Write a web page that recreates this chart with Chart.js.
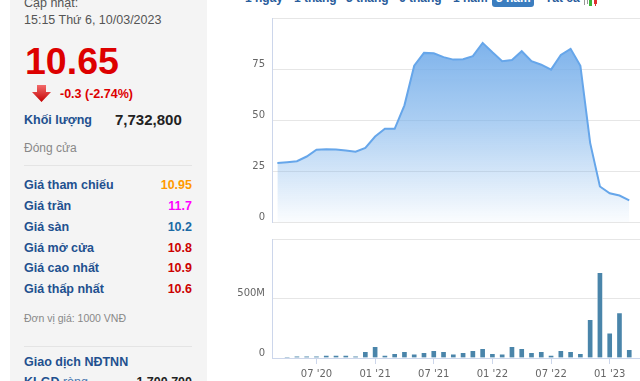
<!DOCTYPE html>
<html>
<head>
<meta charset="utf-8">
<script src="https://cdn.jsdelivr.net/npm/chart.js@4.4.1/dist/chart.umd.min.js"></script>
<style>
  html, body { margin: 0; padding: 0; background: #fff; }
  body { width: 640px; height: 381px; position: relative; overflow: hidden; font-family: "Liberation Sans", Arial, sans-serif; }
  .t { position: absolute; white-space: nowrap; line-height: 1; }
  .panel { position: absolute; left: 10px; top: 0; width: 197px; height: 381px; background: #f4f4f4; }
  .sep { position: absolute; left: 24px; width: 168px; height: 1px; background: #e4e4e4; }
  .lbl { left: 24px; font-size: 12.5px; font-weight: bold; color: #22508f; }
  .val { right: 448px; font-size: 12.5px; font-weight: bold; text-align: right; }
  .tab { top: -8.5px; font-size: 12px; font-weight: bold; color: #2a5d9c; }
  .btn { position: absolute; left: 492px; top: -4px; width: 42px; height: 11px; background: #3b7dbf; border-radius: 3px; }
  .chartbox { position: absolute; }
</style>
</head>
<body>
<div class="panel"></div>
<div class="t" style="left:24px;top:-3.5px;font-size:12.5px;color:#555">Cập nhật:</div>
<div class="t" style="left:24px;top:14px;font-size:12.5px;color:#555">15:15 Thứ 6, 10/03/2023</div>
<div class="t" style="left:25px;top:43px;font-size:37.5px;font-weight:bold;color:#dd0000">10.65</div>
<svg style="position:absolute;left:31px;top:84px" width="22" height="20">
  <defs><linearGradient id="ag" x1="0" y1="0" x2="0" y2="1"><stop offset="0" stop-color="#f26b6b"/><stop offset="1" stop-color="#c40000"/></linearGradient></defs>
  <path d="M6 1 H15 V8 H20 L10.5 18 L1 8 H6 Z" fill="url(#ag)"/>
</svg>
<div class="t" style="left:60px;top:88.4px;font-size:12.5px;font-weight:bold;color:#dd0000">-0.3 (-2.74%)</div>
<div class="t lbl" style="top:114px">Khối lượng</div>
<div class="t" style="left:115px;top:111.5px;font-size:15px;font-weight:bold;color:#222">7,732,800</div>
<div class="t" style="left:24px;top:141.8px;font-size:12px;color:#888">Đóng cửa</div>
<div class="sep" style="top:165px"></div>

<div class="t lbl" style="top:179.4px">Giá tham chiếu</div>
<div class="t val" style="top:179.4px;color:#ff9900">10.95</div>
<div class="t lbl" style="top:200.4px">Giá trần</div>
<div class="t val" style="top:200.4px;color:#ff00ff">11.7</div>
<div class="t lbl" style="top:220.9px">Giá sàn</div>
<div class="t val" style="top:220.9px;color:#1b6aa5">10.2</div>
<div class="t lbl" style="top:241.9px">Giá mở cửa</div>
<div class="t val" style="top:241.9px;color:#cc0000">10.8</div>
<div class="t lbl" style="top:262.4px">Giá cao nhất</div>
<div class="t val" style="top:262.4px;color:#cc0000">10.9</div>
<div class="t lbl" style="top:282.9px">Giá thấp nhất</div>
<div class="t val" style="top:282.9px;color:#cc0000">10.6</div>

<div class="t" style="left:24px;top:313px;font-size:10.5px;color:#888">Đơn vị giá: 1000 VNĐ</div>
<div class="sep" style="top:346px"></div>
<div class="t lbl" style="top:355.5px">Giao dịch NĐTNN</div>
<div class="t lbl" style="top:376px">KLGD <span style="font-weight:normal;color:#4a78b0">ròng</span></div>
<div class="t val" style="top:376px;color:#222">1,700,700</div>

<div class="t tab" style="left:245px">1 ngày</div>
<div class="t tab" style="left:294px">1 tháng</div>
<div class="t tab" style="left:346px">3 tháng</div>
<div class="t tab" style="left:399px">6 tháng</div>
<div class="t tab" style="left:453px">1 năm</div>
<div class="btn"></div>
<div class="t tab" style="left:496px;color:#fff">3 năm</div>
<div class="t tab" style="left:545px">Tất cả</div>
<div style="position:absolute;left:584px;top:0;width:1px;height:5px;background:#999"></div>
<div style="position:absolute;left:587px;top:0;width:1px;height:4px;background:#999"></div>
<div style="position:absolute;left:589px;top:0;width:3px;height:6px;background:#3cb43c"></div>
<div style="position:absolute;left:594px;top:0;width:3px;height:4px;background:#e03030"></div>
<div style="position:absolute;left:595px;top:4px;width:1px;height:2px;background:#e03030"></div>

<div class="chartbox" style="left:220px;top:0;width:420px;height:230px"><canvas id="priceChart" width="420" height="230"></canvas></div>
<div class="chartbox" style="left:220px;top:230px;width:420px;height:151px"><canvas id="volumeChart" width="420" height="151"></canvas></div>

<script>
var months = ['2020-03', '2020-04', '2020-05', '2020-06', '2020-07', '2020-08', '2020-09', '2020-10',
  '2020-11', '2020-12', '2021-01', '2021-02', '2021-03', '2021-04', '2021-05', '2021-06',
  '2021-07', '2021-08', '2021-09', '2021-10', '2021-11', '2021-12', '2022-01', '2022-02',
  '2022-03', '2022-04', '2022-05', '2022-06', '2022-07', '2022-08', '2022-09', '2022-10',
  '2022-11', '2022-12', '2023-01', '2023-02', '2023-03'];

// monthly close, thousand VND
var prices = [28.9, 29.3, 29.8, 32.1, 35.4, 35.7, 35.5, 35.0, 34.5, 36.3, 41.9, 45.7,
  45.7, 57.2, 76.6, 82.9, 82.7, 80.8, 79.6, 79.8, 81.3, 87.8, 83.2, 78.8,
  79.4, 83.7, 78.8, 77.1, 74.7, 81.9, 84.9, 76.6, 38.8, 17.4, 14.1, 13.0, 10.65];

// monthly volume, millions of shares
var volumes = [null, 8, 17, 17, 17, 25, 25, 25, 17, 56, 99, 25,
  40, 56, 34, 48, 65, 56, 34, 48, 65, 82, 40, 34,
  99, 82, 48, 56, 25, 65, 56, 40, 325, 720, 212, 381, 73];

var tickMonths = ['2020-07', '2021-01', '2021-07', '2022-01', '2022-07', '2023-01'];
var tickLabels = ["07 '20", "01 '21", "07 '21", "01 '22", "07 '22", "01 '23"];

var axisFont = { family: 'DejaVu Sans', size: 10 };
var xRange = { min: -0.55, max: 37.1 };

function points(values) {
  return months.map(function (m, i) { return { x: i, y: values[i] }; });
}

// fixed-width y axis, no extra room for half labels
function fitY(scale) {
  scale.width = 52;
  scale.paddingTop = 0;
  scale.paddingBottom = 0;
}

function areaFill(context) {
  var area = context.chart.chartArea;
  if (!area) return 'rgba(118,175,234,0.5)';
  var g = context.chart.ctx.createLinearGradient(0, area.top, 0, area.bottom);
  g.addColorStop(0, 'rgba(112,170,233,1)');
  g.addColorStop(0.5, 'rgba(118,175,234,0.62)');
  g.addColorStop(1, 'rgba(118,175,234,0.03)');
  return g;
}

new Chart(document.getElementById('priceChart'), {
  type: 'line',
  data: {
    datasets: [{
      data: points(prices),
      borderColor: '#66a6ea',
      borderWidth: 2,
      backgroundColor: areaFill,
      fill: 'start',
      pointRadius: 0,
      tension: 0
    }]
  },
  options: {
    responsive: false,
    animation: false,
    layout: { padding: { top: 18, bottom: 8, right: 0, left: 0 } },
    plugins: { legend: { display: false }, tooltip: { enabled: false } },
    scales: {
      x: { type: 'linear', min: xRange.min, max: xRange.max, offset: false, display: false },
      y: {
        min: 0, max: 100,
        ticks: {
          stepSize: 25, color: '#666', font: axisFont, padding: 7, labelOffset: -5,
          callback: function (v) { return v < 100 ? String(v) : ''; }
        },
        grid: { color: '#e6e6e6', drawTicks: false },
        border: { color: '#ccd6eb' },
        afterFit: fitY
      }
    }
  }
});

new Chart(document.getElementById('volumeChart'), {
  type: 'bar',
  data: {
    datasets: [{
      data: points(volumes),
      backgroundColor: '#4a85aa',
      borderColor: 'rgba(255,255,255,0.55)',
      borderWidth: 1,
      barThickness: 6
    }]
  },
  options: {
    responsive: false,
    animation: false,
    layout: { padding: { top: 9, bottom: 0, right: 0, left: 0 } },
    plugins: { legend: { display: false }, tooltip: { enabled: false } },
    scales: {
      x: {
        type: 'linear', min: xRange.min, max: xRange.max, offset: false,
        afterBuildTicks: function (scale) {
          scale.ticks = tickMonths.map(function (m) { return { value: months.indexOf(m) }; });
        },
        ticks: {
          autoSkip: false, maxRotation: 0, color: '#666', font: axisFont, padding: 4.5,
          callback: function (v) { return tickLabels[tickMonths.indexOf(months[v])]; }
        },
        grid: { drawOnChartArea: false, drawTicks: true, tickLength: 6, tickColor: '#ccd6eb', offset: false },
        border: { color: '#ccd6eb' },
        afterFit: function (scale) {
          scale.height = 23;
          scale.paddingLeft = 0;
          scale.paddingRight = 0;
        }
      },
      y: {
        min: 0, max: 1000,
        ticks: {
          stepSize: 500, color: '#666', font: axisFont, padding: 7, labelOffset: -5,
          callback: function (v) { return v === 0 ? '0' : (v < 1000 ? v + 'M' : ''); }
        },
        grid: { color: '#e6e6e6', drawTicks: false },
        border: { color: '#ccd6eb' },
        afterFit: fitY
      }
    }
  }
});
</script>
</body>
</html>
